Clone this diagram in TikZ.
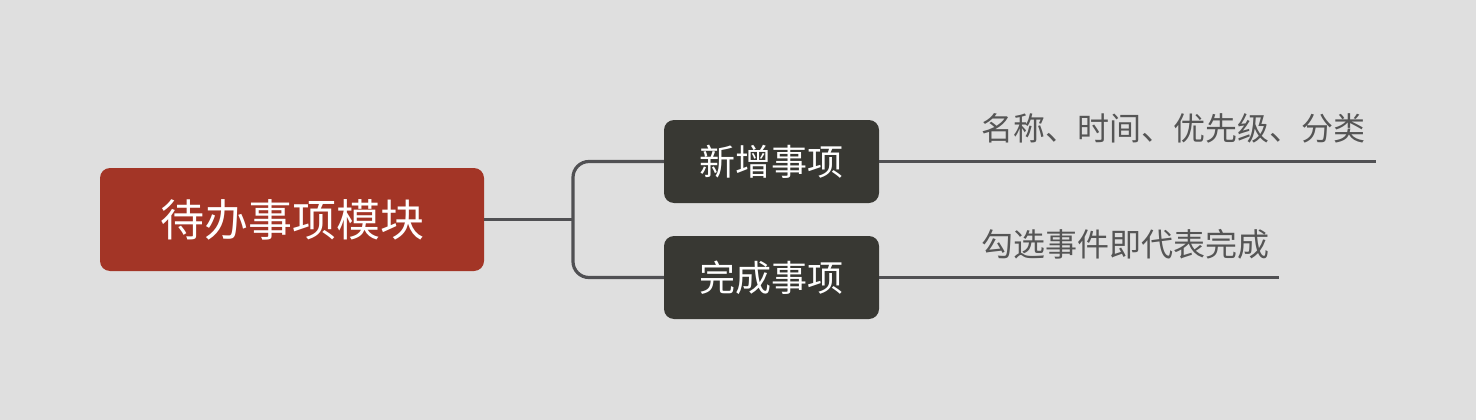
\documentclass[tikz,border=0pt]{standalone}
\usepackage{fontspec}
\newfontfamily\cjk{Noto Sans CJK SC}
\definecolor{bg}{HTML}{DFDFDF}
\definecolor{rootc}{HTML}{A33526}
\definecolor{childc}{HTML}{383833}
\definecolor{linec}{HTML}{505053}
\definecolor{leaftext}{HTML}{555555}
\begin{document}
\begin{tikzpicture}[x=1pt,y=-1pt,
  rootbox/.style={fill=rootc,rounded corners=10pt,text=white,inner sep=0pt,
    minimum width=384pt,minimum height=103pt,font=\cjk\fontsize{44}{50}\selectfont},
  childbox/.style={fill=childc,rounded corners=10pt,text=white,inner sep=0pt,
    minimum width=215pt,minimum height=83pt,font=\cjk\fontsize{36}{42}\selectfont},
  leaflabel/.style={text=leaftext,inner sep=0pt,anchor=west,font=\cjk\fontsize{32}{38}\selectfont},
  conn/.style={draw=linec,line width=3.2pt}]
\fill[bg] (0,0) rectangle (1476,420);
\useasboundingbox (0,0) rectangle (1476,420);
\node[rootbox] (root) at (292,219.5) {待办事项模块};
\node[childbox] (c1) at (771.5,161.5) {新增事项};
\node[childbox] (c2) at (771.5,277.5) {完成事项};
\coordinate (e1) at (1376,161.5);
\coordinate (e2) at (1279,277.5);
\node[leaflabel] (l1) at (981,128) {名称、时间、优先级、分类};
\node[leaflabel] (l2) at (981,244) {勾选事件即代表完成};
\draw[conn] (root.east) -- (573,219.5);
\draw[conn,rounded corners=16pt] (c1.west) -| (573,219.5) |- (c2.west);
\draw[conn] (c1.east) -- (e1);
\draw[conn] (c2.east) -- (e2);
\end{tikzpicture}
\end{document}
